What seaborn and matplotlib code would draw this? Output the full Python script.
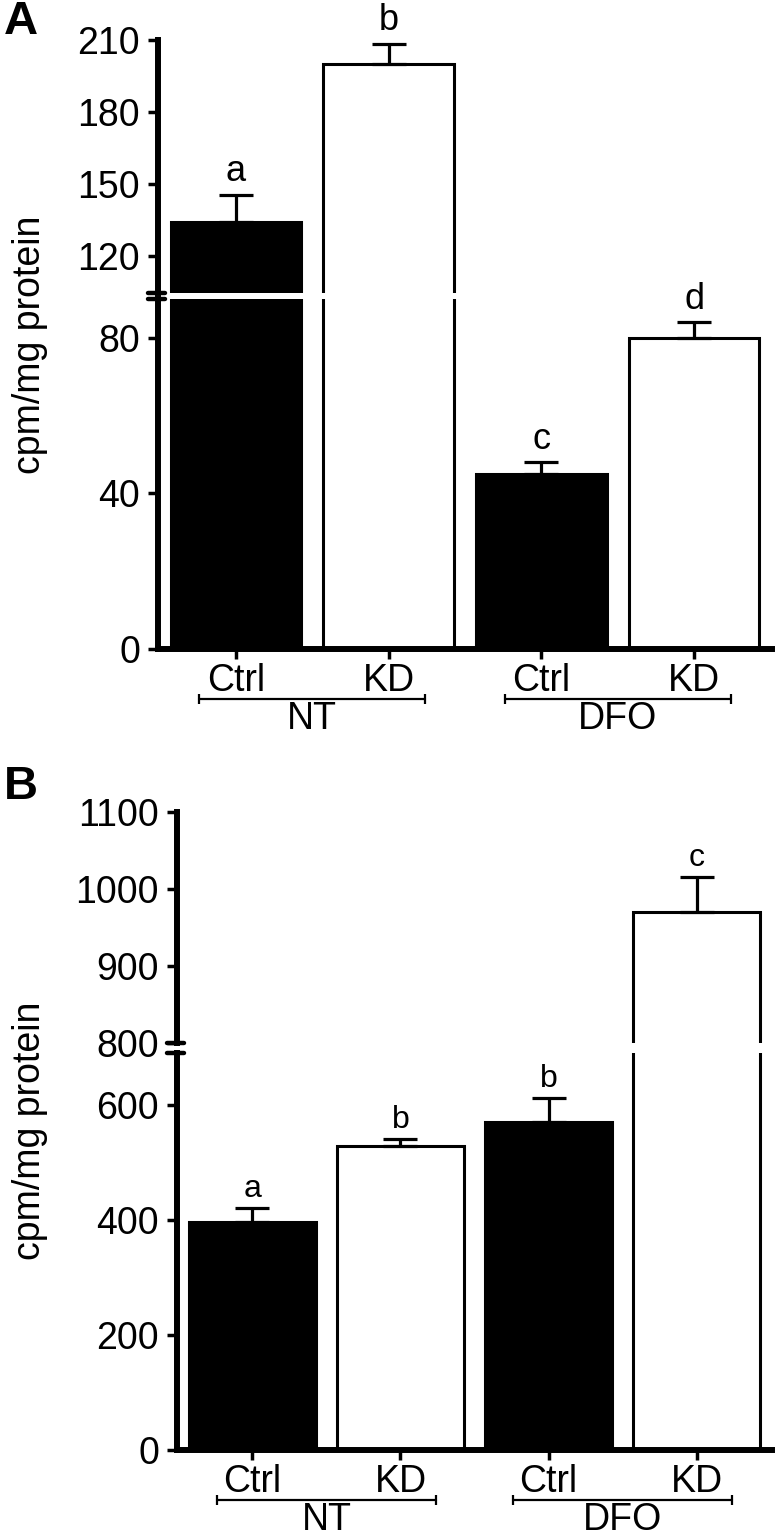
import matplotlib
matplotlib.use("Agg")
import matplotlib.pyplot as plt
from matplotlib.transforms import blended_transform_factory
import pandas as pd
import seaborn as sns

# data
groups = ["NT Ctrl", "NT KD", "DFO Ctrl", "DFO KD"]
tick_labels = ["Ctrl", "KD", "Ctrl", "KD"]
treatments = ["NT", "DFO"]
bar_colors = ["black", "white", "black", "white"]

a_mean = [134, 200, 45, 80]
a_sem = [11.5, 8.5, 3, 4]
a_letters = ["a", "b", "c", "d"]

b_mean = [397, 528, 570, 970]
b_sem = [23, 12, 42, 45]
b_letters = ["a", "b", "b", "c"]

a_upper_ticks = [120, 150, 180, 210]
a_lower_ticks = [0, 40, 80]
b_upper_ticks = [800, 900, 1000, 1100]
b_lower_ticks = [0, 200, 400, 600]

sns.set_style("ticks", {"axes.edgecolor": "black", "xtick.color": "black",
                        "ytick.color": "black", "text.color": "black",
                        "axes.labelcolor": "black"})
plt.rcParams["font.family"] = ["Liberation Sans", "DejaVu Sans"]

W, H = 775, 1536
fig = plt.figure(figsize=(W / 100, H / 100), dpi=100)


def px_axes(left, right, top, bottom):
    return fig.add_axes([left / W, 1 - bottom / H, (right - left) / W, (bottom - top) / H])


def draw_bars(ax, means, sems):
    df = pd.DataFrame({"group": groups, "value": means})
    sns.barplot(data=df, x="group", y="value", hue="group",
                palette=dict(zip(groups, bar_colors)), legend=False,
                width=0.855, edgecolor="black", linewidth=2.2,
                errorbar=None, ax=ax)
    ax.errorbar(range(len(groups)), means, yerr=[[0] * len(sems), sems],
                fmt="none", ecolor="black", elinewidth=2.3, capsize=12,
                capthick=2.3, zorder=5)
    ax.set_xlim(-0.51, 3.51)
    ax.set_xlabel("")
    ax.set_ylabel("")


def style_axis(ax, ticks, ylim, bottom):
    ax.set_ylim(*ylim)
    ax.set_yticks(ticks)
    ax.tick_params(axis="y", labelsize=27, length=7, width=2.5, pad=6)
    sns.despine(ax=ax, bottom=not bottom)
    ax.spines["left"].set_linewidth(4.3)
    if bottom:
        ax.spines["bottom"].set_linewidth(4.3)
        ax.set_xticks(range(len(groups)))
        ax.set_xticklabels(tick_labels, fontsize=27)
        ax.tick_params(axis="x", length=7, width=2.5, pad=3)
    else:
        ax.set_xticks([])


def break_mark(ax, y):
    tr = ax.get_yaxis_transform()
    ax.plot([-0.016, 0.012], [y, y], color="black", lw=3.2,
            transform=tr, clip_on=False, solid_capstyle="round")


def add_groups(ax, ax_h_px, line_px, text_px):
    tr = blended_transform_factory(ax.transData, ax.transAxes)
    y_line = -line_px / ax_h_px
    y_text = -text_px / ax_h_px
    for k, name in enumerate(treatments):
        x0, x1 = 2 * k - 0.24, 2 * k + 1 + 0.24
        ax.plot([x0, x1], [y_line, y_line], color="black", lw=1.6,
                transform=tr, clip_on=False)
        ax.plot([x0, x1], [y_line, y_line], color="black", lw=0, marker="|",
                markersize=7, markeredgewidth=1.6, transform=tr, clip_on=False)
        ax.text(2 * k + 0.5, y_text, name, transform=tr, ha="center", va="center",
                fontsize=27)


def panel(label, mean, sem, letters, x_left, up_px, lo_px, up_lim, lo_lim,
          up_ticks, lo_ticks, letter_size, letter_off, label_y):
    ax_up = px_axes(x_left, 772, up_px[0], up_px[1])
    ax_lo = px_axes(x_left, 772, lo_px[0], lo_px[1])
    for ax in (ax_up, ax_lo):
        draw_bars(ax, mean, sem)
    style_axis(ax_up, up_ticks, up_lim, bottom=False)
    style_axis(ax_lo, lo_ticks, lo_lim, bottom=True)
    break_mark(ax_up, up_lim[0])
    break_mark(ax_lo, lo_lim[1])
    for i in range(len(mean)):
        target = ax_up if mean[i] + sem[i] > lo_lim[1] else ax_lo
        target.annotate(letters[i], xy=(i, mean[i] + sem[i]), xytext=(0, letter_off),
                        textcoords="offset points", ha="center", va="baseline",
                        fontsize=letter_size, annotation_clip=False)
    add_groups(ax_lo, lo_px[1] - lo_px[0], 50, 70)
    mid = (up_px[0] + lo_px[1]) / 2
    fig.text(30 / W, 1 - mid / H, "cpm/mg protein", rotation=90,
             ha="center", va="center", fontsize=27)
    fig.text(4 / W, 1 - label_y / H, label, fontsize=34, fontweight="bold",
             ha="left", va="center")


panel("A", a_mean, a_sem, a_letters, 158, (40, 293), (299, 649),
      (104.5, 210), (0, 90), a_upper_ticks, a_lower_ticks, 26, 9.7, 22)
panel("B", b_mean, b_sem, b_letters, 177, (812, 1043), (1053, 1450),
      (800, 1100), (0, 690), b_upper_ticks, b_lower_ticks, 23, 8, 787)

fig.savefig("out.png", dpi=100)
